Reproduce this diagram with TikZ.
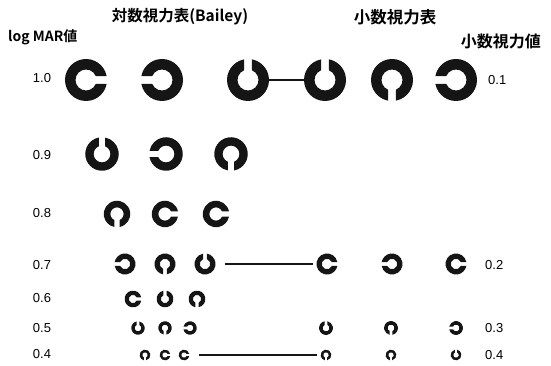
\documentclass[tikz,border=0pt]{standalone}
\usepackage{fontspec}
\setmainfont{Liberation Sans}
\newfontfamily\jp{Noto Sans CJK JP}[BoldFont={Noto Sans CJK JP Bold}]
\newfontfamily\num{Liberation Sans}
\definecolor{ink}{HTML}{151515}
\tikzset{
  ringnode/.style={circle,inner sep=0pt,outer sep=0pt},
  ringfill/.style={fill=ink},
  title/.style={font=\jp\bfseries\fontsize{15.5}{17}\selectfont,inner sep=0pt},
  leftnum/.style={font=\num\fontsize{13}{15}\selectfont,inner sep=0pt},
  rightnum/.style={font=\num\fontsize{13}{15}\selectfont,inner sep=0pt,anchor=west},
  link/.style={draw=ink,line width=1.1pt}
}
% #1 name, #2 x, #3 y(image), #4 diameter, #5 gap direction
\newcommand\landoltC[5]{%
  \node[ringnode,minimum size=#4pt] (#1) at (#2,366-#3) {};
  \pgfmathsetmacro\RR{#4/2}%
  \pgfmathsetmacro\rr{0.5*\RR}%
  \pgfmathsetmacro\gg{0.19*\RR}%
  \pgfmathsetmacro\ao{asin(\gg/\RR)}%
  \pgfmathsetmacro\ai{asin(\gg/\rr)}%
  \begin{scope}[shift={(#1.center)},rotate=#5]
    \fill[ringfill] (\ao:\RR pt) arc[start angle=\ao,end angle=360-\ao,radius=\RR pt]
      -- (360-\ai:\rr pt) arc[start angle=360-\ai,end angle=\ai,radius=\rr pt] -- cycle;
  \end{scope}}
\begin{document}
\begin{tikzpicture}[x=1pt,y=1pt]
\useasboundingbox (0,0) rectangle (551,366);
% headings
\node[title] (h1) at (180,366-17) {対数視力表(Bailey)};
\node[title,font=\jp\bfseries\fontsize{16.5}{18}\selectfont] (h2) at (395,366-17) {小数視力表};
\node[title,font=\jp\bfseries\fontsize{14}{16}\selectfont,anchor=west] (h3) at (8,366-37) {log MAR値};
\node[title,font=\jp\bfseries\fontsize{16}{18}\selectfont,anchor=east] (h4) at (541,366-41) {小数視力値};
% left labels
\node[leftnum] (l10) at (42,366-78) {1.0};
\node[leftnum] (l09) at (42,366-155) {0.9};
\node[leftnum] (l08) at (42,366-213) {0.8};
\node[leftnum] (l07) at (42,366-265) {0.7};
\node[leftnum] (l06) at (42,366-298) {0.6};
\node[leftnum] (l05) at (42,366-328) {0.5};
\node[leftnum] (l04) at (42,366-354) {0.4};
% right labels
\node[rightnum] (d01) at (488,366-80) {0.1};
\node[rightnum] (d02) at (485,366-265) {0.2};
\node[rightnum] (d03) at (485,366-328) {0.3};
\node[rightnum] (d04) at (485,366-355) {0.4};
% row 1.0
\landoltC{a1}{86}{80}{42}{0}
\landoltC{a2}{162}{80}{42}{180}
\landoltC{a3}{248}{80}{42}{90}
\landoltC{a4}{325}{80}{42}{90}
\landoltC{a5}{392}{80}{42}{270}
\landoltC{a6}{456}{80}{42}{180}
% row 0.9
\landoltC{b1}{102}{154}{33.5}{90}
\landoltC{b2}{166}{154}{33.5}{180}
\landoltC{b3}{231}{154}{33.5}{270}
% row 0.8
\landoltC{c1}{117}{214}{26.5}{270}
\landoltC{c2}{165}{214}{26.5}{0}
\landoltC{c3}{216}{214}{26.5}{0}
% row 0.7
\landoltC{e1}{125}{264}{21}{180}
\landoltC{e2}{165}{264}{21}{270}
\landoltC{e3}{205}{264}{21}{90}
\landoltC{e4}{327}{264}{21}{0}
\landoltC{e5}{392}{264}{21}{180}
\landoltC{e6}{456}{264}{21}{0}
% row 0.6
\landoltC{f1}{133}{299}{16.8}{0}
\landoltC{f2}{165}{299}{16.8}{90}
\landoltC{f3}{197}{299}{16.8}{270}
% row 0.5
\landoltC{g1}{138}{328}{13.4}{90}
\landoltC{g2}{165}{328}{13.4}{270}
\landoltC{g3}{190}{328}{13.4}{180}
\landoltC{g4}{326}{328}{13.8}{90}
\landoltC{g5}{391}{328}{13.8}{270}
\landoltC{g6}{456}{328}{13.8}{180}
% row 0.4
\landoltC{k1}{145}{355}{10.8}{270}
\landoltC{k2}{165}{355}{10.8}{0}
\landoltC{k3}{184}{355}{10.8}{0}
\landoltC{k4}{326}{355}{10.8}{270}
\landoltC{k5}{391}{355}{10.8}{270}
\landoltC{k6}{456}{355}{10.8}{90}
% connectors
\draw[link] (a3.east) -- (a4.west);
\draw[link,shorten <=9pt,shorten >=4pt] (e3.east) -- (e4.west);
\draw[link,shorten <=10pt,shorten >=4pt] (k3.east) -- (k4.west);
\end{tikzpicture}
\end{document}
